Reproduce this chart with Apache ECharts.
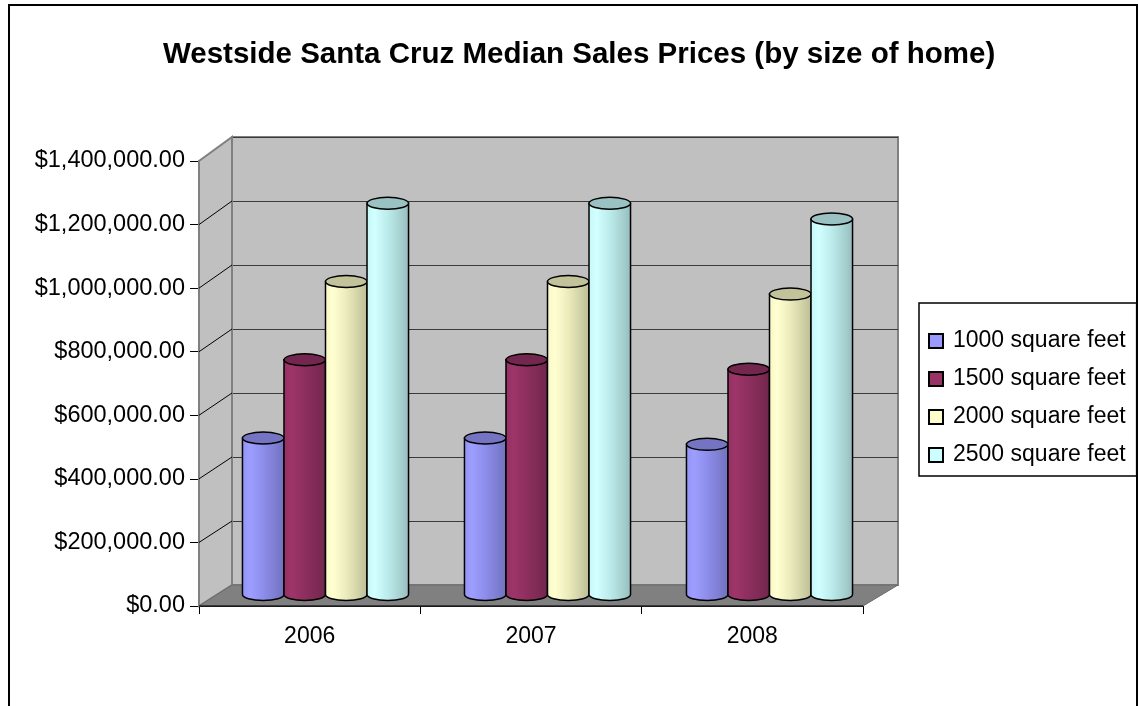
<!DOCTYPE html>
<html><head><meta charset="utf-8">
<script src="https://cdn.jsdelivr.net/npm/echarts@6/dist/echarts.min.js"></script>
<style>html,body{margin:0;padding:0;background:#fff}#c{width:1139px;height:706px}</style>
</head><body><div id="c"></div>
<script>
// ---- data ----
const chartTitle = 'Westside Santa Cruz Median Sales Prices (by size of home)';
const years = ['2006', '2007', '2008'];
const seriesNames = ['1000 square feet', '1500 square feet', '2000 square feet', '2500 square feet'];
const sq1000 = [500000, 500000, 480000];
const sq1500 = [750000, 750000, 720000];
const sq2000 = [1000000, 1000000, 960000];
const sq2500 = [1250000, 1250000, 1200000];
const yMin = 0, yMax = 1400000, yStep = 200000;

// ---- styling ----
const FONT = "'Liberation Sans', Arial, sans-serif";
const baseColors = ['#9999FF', '#993366', '#FFFFCC', '#CCFFFF'];
const allValues = [sq1000, sq1500, sq2000, sq2500];

function shade(hex, f) {
  const n = parseInt(hex.slice(1), 16);
  const r = Math.round(((n >> 16) & 255) * f), g = Math.round(((n >> 8) & 255) * f), b = Math.round((n & 255) * f);
  return 'rgb(' + Math.min(255, r) + ',' + Math.min(255, g) + ',' + Math.min(255, b) + ')';
}
function money(v) {
  const s = Math.round(v).toString().replace(/\B(?=(\d{3})+(?!\d))/g, ',');
  return '$' + s + '.00';
}

function makeRender(si) {
  const base = baseColors[si];
  return function (params, api) {
    const cat = api.value(0), val = api.value(1);
    const band = api.size([1, 0])[0];
    const w = band * 0.187;
    const top = api.coord([cat, val]);
    const bot = api.coord([cat, 0]);
    const cx = top[0] + (si - 1.5) * w;
    const rx = w / 2, ry = 6;
    const yt = top[1], yb = bot[1];
    const x1 = cx - rx, x2 = cx + rx;
    const grad = new echarts.graphic.LinearGradient(x1, 0, x2, 0, [
      { offset: 0, color: shade(base, 0.97) },
      { offset: 0.18, color: shade(base, 1.03) },
      { offset: 0.5, color: shade(base, 0.92) },
      { offset: 0.8, color: shade(base, 0.82) },
      { offset: 1, color: shade(base, 0.74) }
    ], true);
    return {
      type: 'group',
      children: [
        { type: 'path', shape: { pathData: 'M' + x1 + ' ' + yt + ' L' + x1 + ' ' + yb + ' A' + rx + ' ' + ry + ' 0 0 0 ' + x2 + ' ' + yb + ' L' + x2 + ' ' + yt + ' Z' },
          style: { fill: grad, stroke: '#000', lineWidth: 1.5 } },
        { type: 'ellipse', shape: { cx: cx, cy: yt, rx: rx, ry: ry },
          style: { fill: shade(base, 0.76), stroke: '#000', lineWidth: 1.5 } }
      ]
    };
  };
}

const chart = echarts.init(document.getElementById('c'), null, { renderer: 'canvas' });

const series = seriesNames.map(function (name, i) {
  return {
    name: name,
    type: 'custom',
    xAxisIndex: 2, yAxisIndex: 2,
    z: 10,
    itemStyle: { color: baseColors[i], borderColor: '#000', borderWidth: 1 },
    renderItem: makeRender(i),
    data: years.map(function (y, k) { return [k, allValues[i][k]]; })
  };
});

const option = {
  animation: false,
  backgroundColor: '#fff',
  textStyle: { fontFamily: FONT },
  title: {
    text: chartTitle, left: 158, top: 35,
    textStyle: { fontFamily: FONT, fontSize: 29.5, fontWeight: 'bold', color: '#000' }
  },
  legend: {
    orient: 'vertical', left: 919, top: 303,
    padding: [26, 11, 9, 9], itemGap: 14, itemWidth: 14, itemHeight: 14,
    borderColor: '#000', borderWidth: 1.5,
    icon: 'rect',
    data: seriesNames,
    textStyle: { fontFamily: FONT, fontSize: 23, color: '#000', lineHeight: 24, padding: [0, 0, 0, 5] }
  },
  grid: [
    { left: 199, right: 276, top: 161, bottom: 100 },             // front
    { left: 232, right: 241, top: 137, bottom: 121, show: true,   // back wall
      backgroundColor: '#c0c0c0', borderColor: '#808080', borderWidth: 2 },
    { left: 214.5, right: 258.5, top: 156.4, bottom: 111.4 }      // bar plane
  ],
  xAxis: [
    { gridIndex: 0, type: 'category', data: years, boundaryGap: true,
      axisLine: { lineStyle: { color: '#000', width: 1 } },
      axisTick: { show: true, length: 8, interval: 0, lineStyle: { color: '#000' } },
      axisLabel: { fontFamily: FONT, fontSize: 23, color: '#000', margin: 19 } },
    { gridIndex: 1, type: 'category', data: years, show: false },
    { gridIndex: 2, type: 'category', data: years, show: false }
  ],
  yAxis: [
    { gridIndex: 0, type: 'value', min: yMin, max: yMax, interval: yStep,
      axisLine: { show: true, lineStyle: { color: '#808080', width: 2 } },
      axisTick: { show: true, length: 9, lineStyle: { color: '#000' } },
      splitLine: { show: false },
      axisLabel: { fontFamily: FONT, fontSize: 23.5, color: '#000', margin: 14, formatter: money } },
    { gridIndex: 1, type: 'value', min: yMin, max: yMax, interval: yStep,
      axisLine: { show: false }, axisTick: { show: false }, axisLabel: { show: false },
      splitLine: { show: true, lineStyle: { color: '#3a3a3a', width: 1 } } },
    { gridIndex: 2, type: 'value', min: yMin, max: yMax, interval: yStep, show: false }
  ],
  series: series
};
chart.setOption(option);

// ---- 3D walls derived from axis scales ----
const fb = chart.convertToPixel({ xAxisIndex: 0 }, 1) - chart.convertToPixel({ xAxisIndex: 0 }, 0);
const bb = chart.convertToPixel({ xAxisIndex: 1 }, 1) - chart.convertToPixel({ xAxisIndex: 1 }, 0);
const fL = chart.convertToPixel({ xAxisIndex: 0 }, 0) - fb / 2;
const fR = chart.convertToPixel({ xAxisIndex: 0 }, years.length - 1) + fb / 2;
const bL = chart.convertToPixel({ xAxisIndex: 1 }, 0) - bb / 2;
const bR = chart.convertToPixel({ xAxisIndex: 1 }, years.length - 1) + bb / 2;
const fy = function (v) { return chart.convertToPixel({ yAxisIndex: 0 }, v); };
const by = function (v) { return chart.convertToPixel({ yAxisIndex: 1 }, v); };

const gfx = [];
gfx.push({ type: 'polygon', z: 1, shape: { points: [[fL, fy(yMax)], [fL, fy(yMin)], [bL, by(yMin)], [bL, by(yMax)]] },
  style: { fill: '#c0c0c0', stroke: '#808080', lineWidth: 2 } });
for (let v = yMin + yStep; v < yMax; v += yStep) {
  gfx.push({ type: 'line', z: 2, shape: { x1: fL, y1: fy(v), x2: bL, y2: by(v) }, style: { stroke: '#000', lineWidth: 1 } });
}
gfx.push({ type: 'polygon', z: 2, shape: { points: [[fL, fy(yMin)], [fR, fy(yMin)], [bR, by(yMin)], [bL, by(yMin)]] },
  style: { fill: '#808080', stroke: '#6a6a6a', lineWidth: 1 } });
gfx.push({ type: 'line', z: 3, shape: { x1: fL, y1: fy(yMin), x2: fR, y2: fy(yMin) }, style: { stroke: '#000', lineWidth: 1 } });
gfx.push({ type: 'rect', z: 20, shape: { x: 9, y: 5, width: 1128, height: 710 }, style: { fill: 'none', stroke: '#000', lineWidth: 2 } });
chart.setOption({ graphic: gfx });
</script>
</body></html>
